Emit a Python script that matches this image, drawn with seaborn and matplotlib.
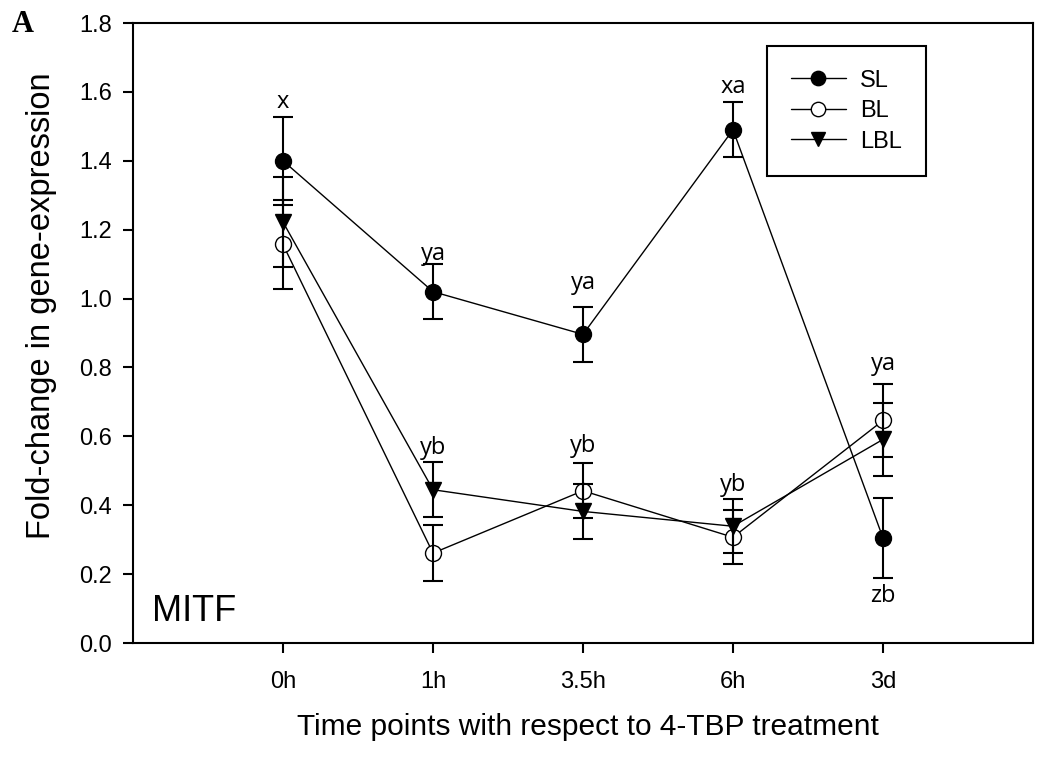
import numpy as np
import pandas as pd
import matplotlib
matplotlib.use("Agg")
import matplotlib.pyplot as plt
import seaborn as sns

# ---- data ----
times = ["0h", "1h", "3.5h", "6h", "3d"]
sl = [1.400, 1.020, 0.896, 1.490, 0.305]
sl_err = [0.128, 0.080, 0.080, 0.080, 0.115]
bl = [1.157, 0.261, 0.442, 0.307, 0.646]
bl_err = [0.130, 0.081, 0.080, 0.078, 0.105]
lbl = [1.222, 0.445, 0.382, 0.339, 0.591]
lbl_err = [0.130, 0.080, 0.080, 0.079, 0.105]
series_names = ["SL", "BL", "LBL"]
# significance letters: for SL group, and for the BL/LBL group
sl_letters = ["x", "ya", "ya", "xa", "zb"]
other_letters = ["", "yb", "yb", "yb", "ya"]
gene = "MITF"
panel = "A"
xlabel = "Time points with respect to 4-TBP treatment"
ylabel = "Fold-change in gene-expression"
yticks = [0.0, 0.2, 0.4, 0.6, 0.8, 1.0, 1.2, 1.4, 1.6, 1.8]

# ---- styling ----
sns.set_style("ticks")
plt.rcParams["font.family"] = ["Liberation Sans", "DejaVu Sans"]
plt.rcParams["axes.linewidth"] = 1.5
for k in ["text.color", "axes.labelcolor", "xtick.color", "ytick.color", "axes.edgecolor"]:
    plt.rcParams[k] = "black"

fig = plt.figure(figsize=(10.45, 7.61), dpi=100)
ax = fig.add_axes([133 / 1045, 1 - 643 / 761, 900 / 1045, 620 / 761])

xpos = np.arange(len(times))
vals = {"SL": sl, "BL": bl, "LBL": lbl}
errs = {"SL": sl_err, "BL": bl_err, "LBL": lbl_err}
markers = {"SL": "o", "BL": "o", "LBL": "v"}
faces = {"SL": "black", "BL": "white", "LBL": "black"}

df = pd.concat([pd.DataFrame({"t": xpos, "value": vals[n], "series": n}) for n in series_names])

for n in series_names:
    d = df[df["series"] == n]
    sns.lineplot(data=d, x="t", y="value", ax=ax, color="black", linewidth=1.0,
                 marker=markers[n], markersize=11.5, markerfacecolor=faces[n],
                 markeredgecolor="black", markeredgewidth=1.0, label=n,
                 zorder=3, legend=False)
    ax.errorbar(xpos, vals[n], yerr=errs[n], fmt="none", ecolor="black",
                elinewidth=1.5, capsize=7, capthick=1.5, zorder=4)

# significance letters (offsets in points from caps)
lfont = dict(family=["Open Sans", "DejaVu Sans"], fontsize=17, color="black")
sl_off = [6, 3, 13, 7, -5]
other_off = [0, 6, 8, 6, 10]
for i in range(len(times)):
    s_up = sl[i] + sl_err[i]
    s_lo = sl[i] - sl_err[i]
    if sl_off[i] >= 0:
        ax.annotate(sl_letters[i], (xpos[i], s_up), xytext=(0, sl_off[i]),
                    textcoords="offset points", ha="center", va="baseline", **lfont)
    else:
        ax.annotate(sl_letters[i], (xpos[i], s_lo), xytext=(0, sl_off[i]),
                    textcoords="offset points", ha="center", va="top", **lfont)
    if other_letters[i]:
        o_up = max(bl[i] + bl_err[i], lbl[i] + lbl_err[i])
        ax.annotate(other_letters[i], (xpos[i], o_up), xytext=(0, other_off[i]),
                    textcoords="offset points", ha="center", va="baseline", **lfont)

ax.set_xlim(-1, 5)
ax.set_ylim(0, 1.8)
ax.set_xticks(xpos)
ax.set_xticklabels(times)
ax.set_yticks(yticks)
ax.set_yticklabels([f"{v:.1f}" for v in yticks])
ax.tick_params(axis="x", direction="out", length=7, width=1.5, labelsize=17, pad=13)
ax.tick_params(axis="y", direction="out", length=7, width=1.5, labelsize=17, pad=8)
for s in ax.spines.values():
    s.set_visible(True)
    s.set_color("black")
    s.set_linewidth(1.5)

ax.set_xlabel(xlabel, fontsize=21.5)
ax.set_ylabel(ylabel, fontsize=23.5)
ax.xaxis.set_label_coords(0.5056, -0.113)
ax.yaxis.set_label_coords(-0.084, 0.5435)

ax.text((152 - 133) / 900, (643 - 621) / 620, gene, transform=ax.transAxes,
        fontsize=26, ha="left", va="baseline")

fig.text(12 / 1045, 1 - 32 / 761, panel, fontsize=22, fontweight="bold",
         family=["Liberation Serif", "DejaVu Serif"], ha="left", va="baseline")

leg = ax.legend(loc="upper left", bbox_to_anchor=((767 - 133) / 900, (643 - 46) / 620),
                frameon=True, fancybox=False, edgecolor="black", framealpha=1,
                fontsize=17, handlelength=2.35, handletextpad=0.6, borderpad=1.0,
                labelspacing=0.36, borderaxespad=0, markerscale=0.9)
leg.get_frame().set_linewidth(1.5)

fig.savefig("out.png", dpi=100)
